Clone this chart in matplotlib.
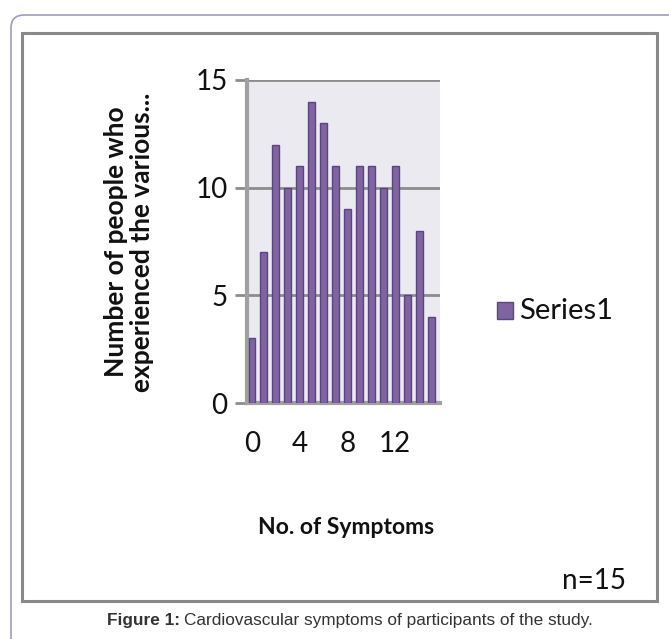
import matplotlib
matplotlib.use("Agg")
import matplotlib.pyplot as plt
from matplotlib.patches import FancyBboxPatch, Rectangle
import numpy as np

# ---- data ----
symptom_counts = list(range(16))
people = [3, 7, 12, 10, 11, 14, 13, 11, 9, 11, 11, 10, 11, 5, 8, 4]
xticks = [0, 4, 8, 12]
yticks = [0, 5, 10, 15]
series_name = "Series1"
xlabel = "No. of Symptoms"
ylabel = "Number of people who\nexperienced the various..."
note = "n=15"

W, H = 669, 639
fig = plt.figure(figsize=(W / 100, H / 100), dpi=100)

def fx(px):
    return px / W

def fy(py):
    return 1 - py / H

FONT = "Lato"
bar_face = "#8064A2"
bar_edge = "#5B4580"
grid_col = "#8C8C8C"

# outer rounded border (page frame)
outer = FancyBboxPatch((fx(11), fy(700)), fx(720), fy(15) - fy(700),
                       boxstyle="round,pad=0,rounding_size=0.02",
                       transform=fig.transFigure, fill=False,
                       edgecolor="#9C9CC4", linewidth=1.2, zorder=0)
fig.patches.append(outer)

# inner chart box
inner = Rectangle((fx(22), fy(601)), fx(657) - fx(22), fy(33) - fy(601),
                  transform=fig.transFigure, fill=False,
                  edgecolor="#8A8A8A", linewidth=2.2, zorder=0)
fig.patches.append(inner)

# plot area
ax = fig.add_axes([fx(247), fy(403), fx(440) - fx(247), fy(80) - fy(403)])
ax.set_facecolor("#ECEAF1")
ax.bar(symptom_counts, people, width=0.58, color=bar_face,
       edgecolor=bar_edge, linewidth=1.0, zorder=3, label=series_name)
ax.set_xlim(-0.42, 15.75)
ax.set_ylim(0, 15)
ax.set_yticks(yticks)
ax.set_xticks(xticks)
ax.yaxis.grid(True, color=grid_col, linewidth=2.0, zorder=1)
ax.set_axisbelow(True)
for s in ["top", "right"]:
    ax.spines[s].set_visible(False)
ax.spines["left"].set_color("#A0A0A0")
ax.spines["left"].set_linewidth(3)
ax.spines["bottom"].set_color("#A0A0A0")
ax.spines["bottom"].set_linewidth(3)
ax.tick_params(axis="y", length=9, width=2, color=grid_col, pad=5,
               labelsize=20, labelcolor="#111111")
ax.tick_params(axis="x", length=0, pad=20, labelsize=20, labelcolor="#111111")
for lab in ax.get_xticklabels() + ax.get_yticklabels():
    lab.set_fontfamily(FONT)

# y label
fig.text(fx(129), fy(242), ylabel, rotation=90, ha="center", va="center",
         fontsize=19, fontweight="bold", family=FONT, color="#111111",
         linespacing=1.1)
# x label
fig.text(fx(346), fy(527), xlabel, ha="center", va="center",
         fontsize=16.5, fontweight="bold", family=FONT, color="#111111")
# legend
fig.patches.append(Rectangle((fx(497), fy(319)), fx(16), fy(302) - fy(319),
                             transform=fig.transFigure, facecolor=bar_face,
                             edgecolor=bar_edge, linewidth=1))
fig.text(fx(519), fy(311), series_name, ha="left", va="center",
         fontsize=21, family=FONT, color="#111111")
# note
fig.text(fx(626), fy(581), note, ha="right", va="center",
         fontsize=20, family=FONT, color="#111111")

# caption
cap_y = fy(621)
t1 = fig.text(fx(107), cap_y, "Figure 1:", ha="left", va="center",
              fontsize=12.4, fontweight="bold", family="Liberation Sans",
              color="#333333")
fig.canvas.draw()
bb = t1.get_window_extent()
fig.text(bb.x1 / W + fx(4), cap_y,
         "Cardiovascular symptoms of participants of the study.",
         ha="left", va="center", fontsize=12.4, family="Liberation Sans",
         color="#333333")

fig.savefig("out.png", dpi=100)
